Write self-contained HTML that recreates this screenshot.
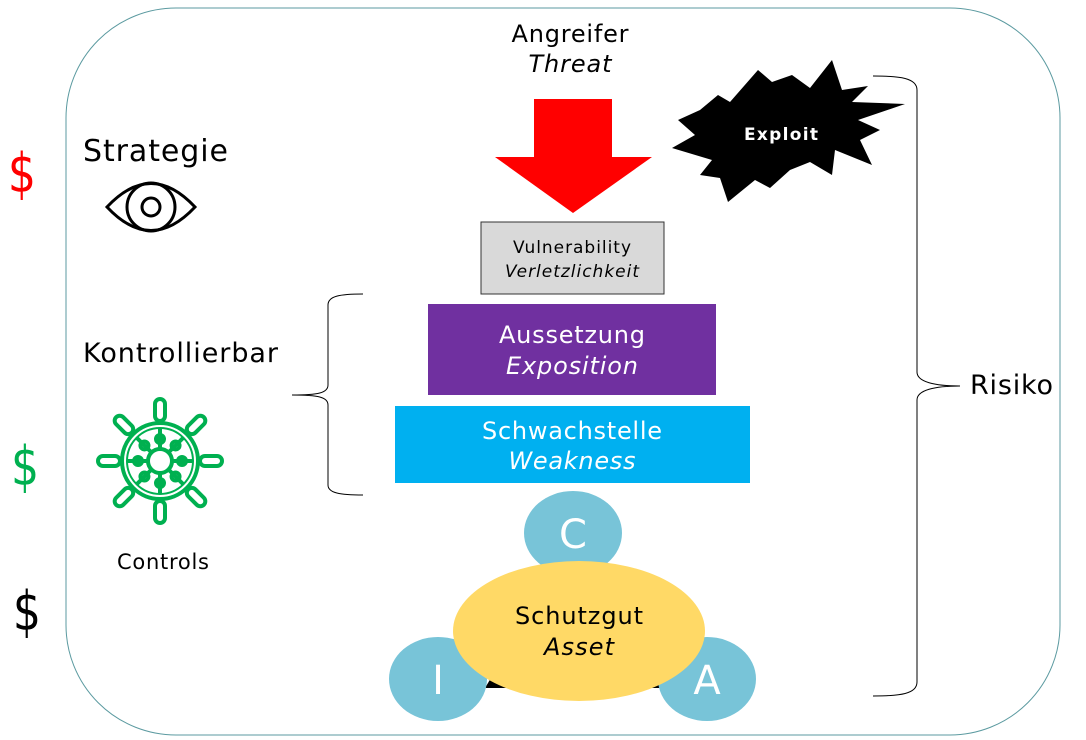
<!DOCTYPE html>
<html><head><meta charset="utf-8"><style>
body{margin:0;width:1086px;height:740px;background:#fff;overflow:hidden;font-family:"DejaVu Sans","Liberation Sans",sans-serif}
svg{position:absolute;left:0;top:0}
</style></head><body>
<svg width="1086" height="740" viewBox="0 0 1086 740" font-family="DejaVu Sans, Liberation Sans, sans-serif">
<rect x="66" y="8" width="994" height="727" rx="110" ry="110" fill="#fff" stroke="#5b9aa0" stroke-width="1"/>
<text x="570" y="42" font-size="24" text-anchor="middle" textLength="117">Angreifer</text>
<text x="570" y="72" font-size="24" text-anchor="middle" font-style="italic" textLength="83">Threat</text>
<polygon points="534,99 612,99 612,157 652,157 573,213 495,157 534,157" fill="#ff0000"/>
<polygon points="700,110 718,95 730,102 758,70 772,82 792,75 810,88 832,60 842,90 868,86 852,102 905,104 858,120 880,130 860,140 872,165 835,150 832,175 810,162 790,170 770,188 755,180 728,202 720,178 700,175 712,160 672,148 695,135 678,120" fill="#000"/>
<text x="781" y="140" font-size="17" font-weight="bold" fill="#fff" text-anchor="middle" textLength="74">Exploit</text>
<rect x="481" y="222" width="183" height="72" fill="#d9d9d9" stroke="#333" stroke-width="1"/>
<text x="572" y="253" font-size="17" text-anchor="middle" textLength="118">Vulnerability</text>
<text x="572" y="277" font-size="17" text-anchor="middle" font-style="italic" textLength="134">Verletzlichkeit</text>
<rect x="428" y="304" width="288" height="91" fill="#7030a0"/>
<text x="572" y="343" font-size="24" fill="#fff" text-anchor="middle" textLength="146">Aussetzung</text>
<text x="572" y="374" font-size="24" fill="#fff" text-anchor="middle" font-style="italic" textLength="132">Exposition</text>
<rect x="395" y="406" width="355" height="77" fill="#00b0f0"/>
<text x="572" y="439" font-size="24" fill="#fff" text-anchor="middle" textLength="180">Schwachstelle</text>
<text x="572" y="469" font-size="24" fill="#fff" text-anchor="middle" font-style="italic" textLength="127">Weakness</text>
<polygon points="573,540 485,688 662,688" fill="#000"/>
<ellipse cx="573" cy="533" rx="49" ry="42" fill="#78c4d8"/>
<ellipse cx="438" cy="679" rx="49" ry="42" fill="#78c4d8"/>
<ellipse cx="707" cy="679" rx="49" ry="42" fill="#78c4d8"/>
<text x="573" y="548" font-size="40" fill="#fff" text-anchor="middle">C</text>
<text x="438" y="694" font-size="40" fill="#fff" text-anchor="middle">I</text>
<text x="707" y="694" font-size="40" fill="#fff" text-anchor="middle">A</text>
<ellipse cx="579" cy="631" rx="126" ry="70" fill="#ffd966"/>
<text x="579" y="624" font-size="24" text-anchor="middle" textLength="128">Schutzgut</text>
<text x="579" y="655" font-size="24" text-anchor="middle" font-style="italic" textLength="70">Asset</text>
<path d="M363,294 C340,294 328,296 328,305 L328,385 C328,393 318,395 292,395 C318,395 328,397 328,405 L328,485 C328,493 340,495 363,495" fill="none" stroke="#000" stroke-width="1"/>
<path d="M873,76 C900,76 917,78 917,90 L917,372 C917,382 935,386 960,386 C935,386 917,390 917,400 L917,682 C917,694 900,696 873,696" fill="none" stroke="#000" stroke-width="1"/>
<text x="970" y="394" font-size="27" textLength="83">Risiko</text>
<text x="83" y="161" font-size="30" textLength="145">Strategie</text>
<text x="83" y="362" font-size="27" textLength="195">Kontrollierbar</text>
<text x="117" y="569" font-size="21" textLength="92">Controls</text>
<text x="22" y="192" font-size="52" fill="#ff0000" text-anchor="middle" transform="translate(22,192) scale(0.85,1.05) translate(-22,-192)">$</text>
<text x="25" y="485" font-size="52" fill="#00b050" text-anchor="middle" transform="translate(25,485) scale(0.85,1.05) translate(-25,-485)">$</text>
<text x="27" y="630" font-size="52" fill="#000" text-anchor="middle" transform="translate(27,630) scale(0.85,1.05) translate(-27,-630)">$</text>
<g fill="none" stroke="#000" stroke-width="3">
<path d="M107,207 Q151,160 195,207 Q151,254 107,207 Z"/>
<circle cx="151" cy="207" r="24"/>
<circle cx="151" cy="207" r="9"/>
</g>
<g transform="translate(160,461)" fill="none" stroke="#00b050" stroke-width="4">
<circle r="38"/><circle r="33" stroke-width="2"/><circle r="12"/>
<g id="sp">
<line x1="0" y1="-12" x2="0" y2="-33"/>
<circle cx="0" cy="-22" r="4"/>
<rect x="-5" y="-62" width="10" height="22" rx="5"/>
<line x1="0" y1="-40" x2="0" y2="-38"/>
</g>
<use href="#sp" transform="rotate(45)"/><use href="#sp" transform="rotate(90)"/><use href="#sp" transform="rotate(135)"/>
<use href="#sp" transform="rotate(180)"/><use href="#sp" transform="rotate(225)"/><use href="#sp" transform="rotate(270)"/><use href="#sp" transform="rotate(315)"/>
</g>
</svg>
</body></html>
